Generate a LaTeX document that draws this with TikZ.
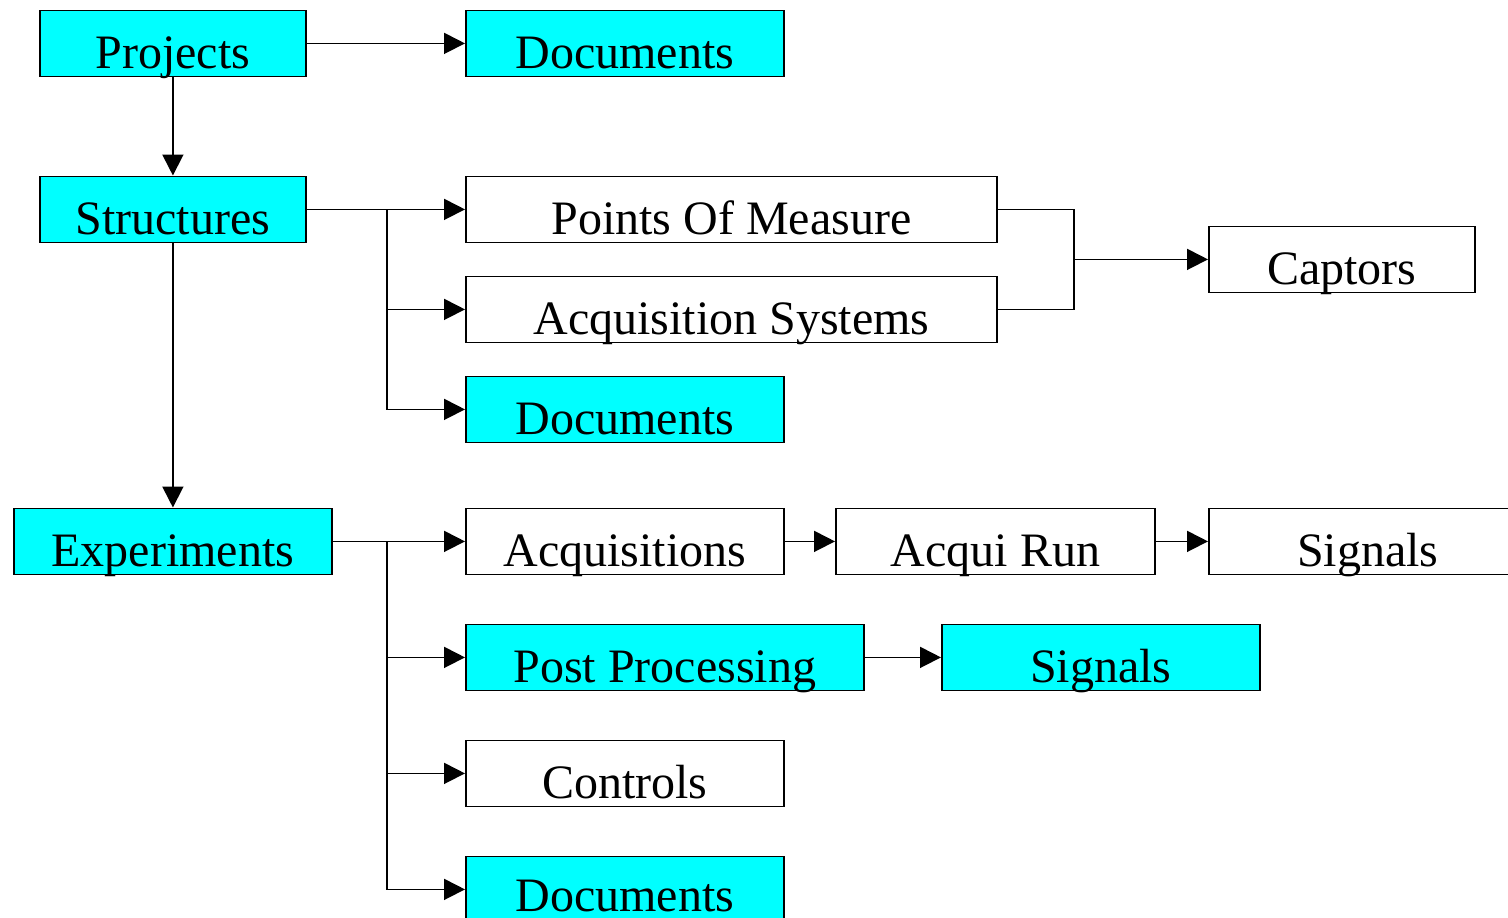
\documentclass[tikz,border=0pt]{standalone}
\usepackage{fontspec}
\setmainfont{Liberation Serif}
\usetikzlibrary{arrows.meta}
\definecolor{boxcyan}{HTML}{00FFFF}
\begin{document}
\begin{tikzpicture}[x=1pt,y=-1pt,
  box/.style={draw=black,line width=1.8pt,anchor=north west,
    inner xsep=0pt,inner ysep=0pt,text height=58pt,text depth=8pt,
    font=\fontsize{48}{58}\selectfont},
  cbox/.style={box,fill=boxcyan},
  wbox/.style={box,fill=white},
  link/.style={line width=1.8pt,draw=black},
  arr/.style={link,-{Triangle[length=21pt,width=21pt]}}]
\clip (0,0) rectangle (1508,918);
\useasboundingbox (0,0) rectangle (1508,918);

% hierarchy boxes
\node[cbox,minimum width=266pt] (projects) at (39,9.5) {Projects};
\node[cbox,minimum width=318pt] (docA) at (465,9.5) {Documents};
\node[cbox,minimum width=266pt] (structures) at (39,175.5) {Structures};
\node[wbox,minimum width=531pt] (pom) at (465,175.5) {Points Of Measure};
\node[wbox,minimum width=531pt] (acqsys) at (465,275.5) {Acquisition Systems};
\node[wbox,minimum width=266pt] (captors) at (1208,225.5) {Captors};
\node[cbox,minimum width=318pt] (docB) at (465,375.5) {Documents};
\node[cbox,minimum width=318pt] (experiments) at (13,507.5) {Experiments};
\node[wbox,minimum width=318pt] (acqs) at (465,507.5) {Acquisitions};
\node[wbox,minimum width=319pt] (run) at (835,507.5) {Acqui Run};
\node[wbox,minimum width=318pt] (sigA) at (1208,507.5) {Signals};
\node[cbox,minimum width=398pt] (post) at (465,623.5) {Post Processing};
\node[cbox,minimum width=318pt] (sigB) at (941,623.5) {Signals};
\node[wbox,minimum width=318pt] (controls) at (465,739.5) {Controls};
\node[cbox,minimum width=318pt,text height=55pt,text depth=11pt] (docC) at (465,855.5) {Documents};

% junction points
\path (structures.east) ++(80,0) coordinate (sbus);
\path (captors.west) ++(-134,0) coordinate (pbus);
\path (experiments.east) ++(54,0) coordinate (ebus);

% connectors
\draw[arr] (projects.east) -- (docA.west);
\draw[arr] (projects.south) -- (structures.north);
\draw[arr] (structures.south) -- (experiments.north);

\draw[arr] (structures.east) -- (pom.west);
\draw[arr] (sbus) |- (acqsys.west);
\draw[arr] (sbus) |- (docB.west);

\draw[link] (pom.east) -| (pbus);
\draw[link] (acqsys.east) -| (pbus);
\draw[arr] (pbus) -- (captors.west);

\draw[arr] (experiments.east) -- (acqs.west);
\draw[arr] (acqs.east) -- (run.west);
\draw[arr] (run.east) -- (sigA.west);
\draw[arr] (ebus) |- (post.west);
\draw[arr] (ebus) |- (controls.west);
\draw[arr] (ebus) |- (docC.west);
\draw[arr] (post.east) -- (sigB.west);
\end{tikzpicture}
\end{document}
